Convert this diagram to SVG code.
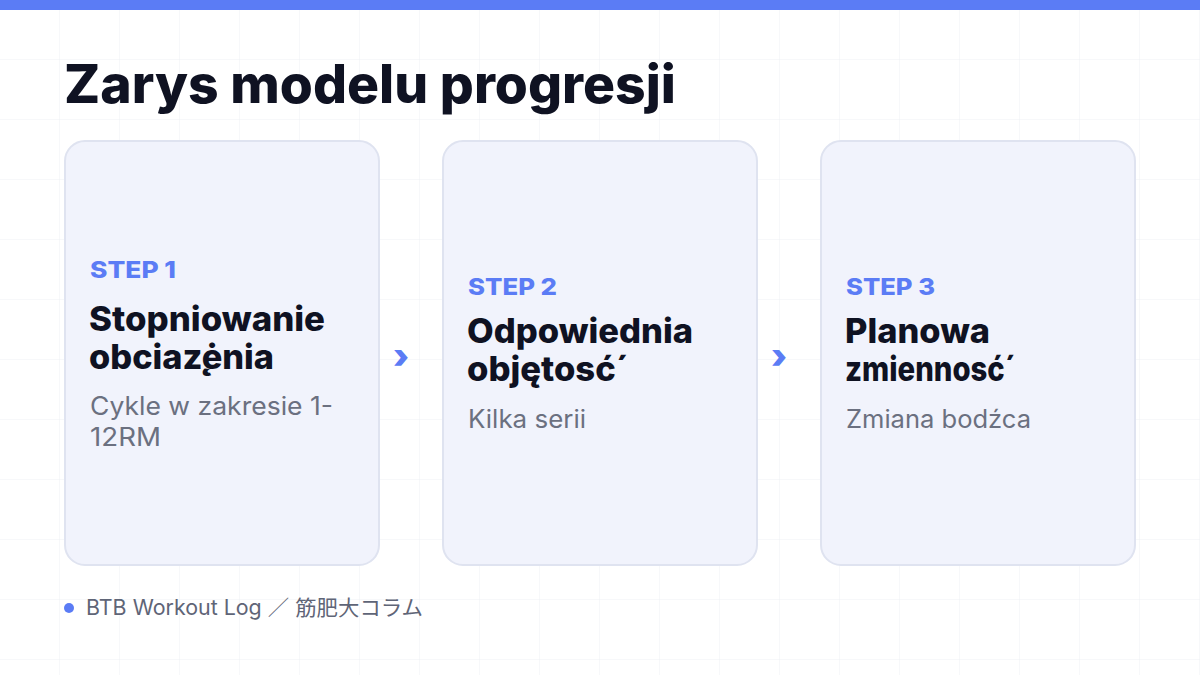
<svg xmlns="http://www.w3.org/2000/svg" width="1200" height="675" viewBox="0 0 1200 675">
<defs>
<pattern id="grid" width="60" height="60" patternUnits="userSpaceOnUse">
<path d="M60 0V60M0 60H60" fill="none" stroke="#eef0f5" stroke-width="1"/>
</pattern>
<style>
.card{fill:#f1f3fc;stroke:#dfe3f0;stroke-width:2}
text{font-family:Inter,"Noto Sans","Noto Sans CJK JP",sans-serif}
.step{font-weight:800;font-size:23px;fill:#5b7cf5}
.ttl{font-weight:800;font-size:34px;fill:#0f1222}
.sub{font-size:25px;fill:#6b7080}
.chev{font-weight:900;font-size:34px;fill:#5b7cf5}
</style>
</defs>
<rect width="1200" height="675" fill="#ffffff"/>
<rect width="1200" height="675" fill="url(#grid)"/>
<rect x="0" y="0" width="1200" height="10" fill="#5b7cf5"/>
<text x="64" y="103" font-weight="800" font-size="53" fill="#0f1222" textLength="612" lengthAdjust="spacingAndGlyphs">Zarys modelu progresji</text>
<g id="node1">
<rect class="card" x="65" y="141" width="314" height="424" rx="20"/>
<text class="step" x="90" y="278" textLength="86" lengthAdjust="spacingAndGlyphs">STEP 1</text>
<text class="ttl" x="89" y="331" textLength="236" lengthAdjust="spacingAndGlyphs">Stopniowanie</text>
<text class="ttl" x="89" y="369" textLength="185" lengthAdjust="spacingAndGlyphs">obciaz̨ėnia</text>
<text class="sub" x="90" y="415" textLength="243" lengthAdjust="spacingAndGlyphs">Cykle w zakresie 1-</text>
<text class="sub" x="90" y="446" textLength="71" lengthAdjust="spacingAndGlyphs">12RM</text>
</g>
<g id="node2">
<rect class="card" x="443" y="141" width="314" height="424" rx="20"/>
<text class="step" x="468" y="295" textLength="89" lengthAdjust="spacingAndGlyphs">STEP 2</text>
<text class="ttl" x="467" y="343" textLength="226" lengthAdjust="spacingAndGlyphs">Odpowiednia</text>
<text class="ttl" x="467" y="381" textLength="162" lengthAdjust="spacingAndGlyphs">objętosć´</text>
<text class="sub" x="468" y="428" textLength="118" lengthAdjust="spacingAndGlyphs">Kilka serii</text>
</g>
<g id="node3">
<rect class="card" x="821" y="141" width="314" height="424" rx="20"/>
<text class="step" x="846" y="295" textLength="89" lengthAdjust="spacingAndGlyphs">STEP 3</text>
<text class="ttl" x="845" y="343" textLength="145" lengthAdjust="spacingAndGlyphs">Planowa</text>
<text class="ttl" x="845" y="381" textLength="171" lengthAdjust="spacingAndGlyphs">zmiennosć´</text>
<text class="sub" x="846" y="428" textLength="185" lengthAdjust="spacingAndGlyphs">Zmiana bodźca</text>
</g>
<g id="connectors">
<text class="chev" x="401" y="368" text-anchor="middle">›</text>
<text class="chev" x="779" y="368" text-anchor="middle">›</text>
</g>
<g id="footer">
<circle cx="69" cy="608" r="5" fill="#5b7cf5"/>
<text x="86" y="615" font-size="21" fill="#5f6577" textLength="337" lengthAdjust="spacingAndGlyphs">BTB Workout Log ／ 筋肥大コラム</text>
</g>
</svg>
